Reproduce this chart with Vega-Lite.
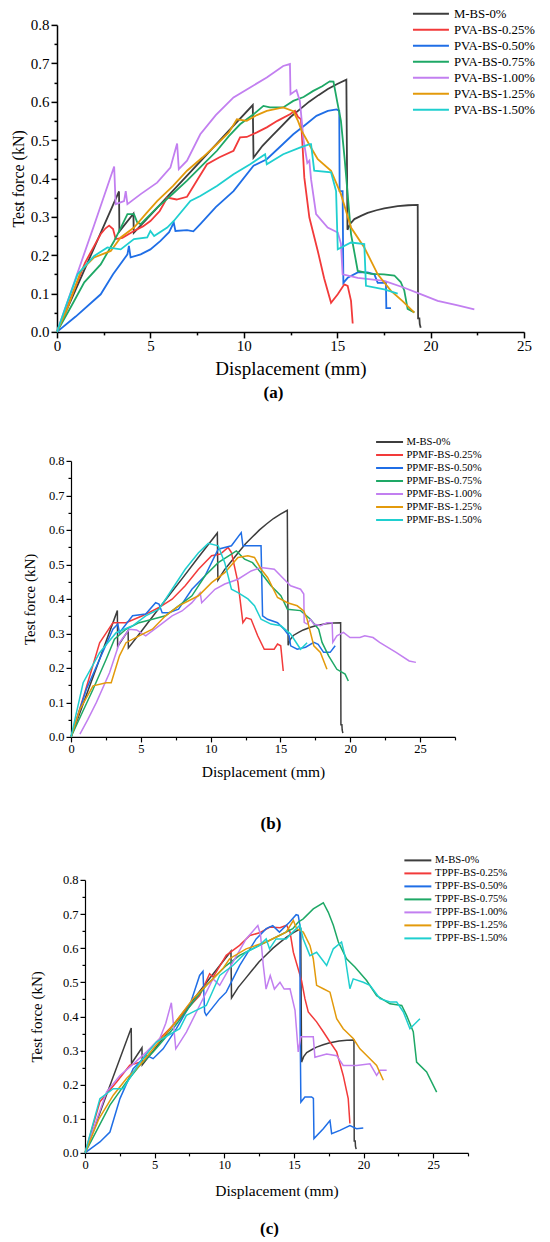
{
  "$schema": "https://vega.github.io/schema/vega-lite/v6.json",
  "padding": {"left": 9, "top": 3.9, "right": 0, "bottom": 0},
  "background": "white",
  "config": {
    "font": "Liberation Serif",
    "view": {"stroke": null},
    "axis": {"grid": false, "domainColor": "#000", "tickColor": "#000", "labelColor": "#000", "titleColor": "#000", "titleFontWeight": "normal", "labelFont": "Liberation Serif", "titleFont": "Liberation Serif", "labelFlush": false, "labelOverlap": false},
    "legend": {"labelFont": "Liberation Serif", "labelColor": "#000"},
    "title": {"font": "Liberation Serif", "color": "#000"}
  },
  "datasets": {
    "m": [
      {"s":"M-BS-0%","x":0,"y":0},{"s":"M-BS-0%","x":3.32,"y":0.366},{"s":"M-BS-0%","x":3.34,"y":0.262},{"s":"M-BS-0%","x":4.09,"y":0.308},{"s":"M-BS-0%","x":4.11,"y":0.258},{"s":"M-BS-0%","x":5,"y":0.304},{"s":"M-BS-0%","x":6,"y":0.357},{"s":"M-BS-0%","x":7,"y":0.409},{"s":"M-BS-0%","x":8,"y":0.461},{"s":"M-BS-0%","x":9,"y":0.514},{"s":"M-BS-0%","x":10.48,"y":0.591},{"s":"M-BS-0%","x":10.52,"y":0.454},{"s":"M-BS-0%","x":11,"y":0.485},{"s":"M-BS-0%","x":11.5,"y":0.51},{"s":"M-BS-0%","x":12,"y":0.535},{"s":"M-BS-0%","x":12.5,"y":0.56},{"s":"M-BS-0%","x":13,"y":0.58},{"s":"M-BS-0%","x":13.5,"y":0.6},{"s":"M-BS-0%","x":14,"y":0.617},{"s":"M-BS-0%","x":14.5,"y":0.633},{"s":"M-BS-0%","x":15,"y":0.646},{"s":"M-BS-0%","x":15.49,"y":0.657},{"s":"M-BS-0%","x":15.55,"y":0.266},{"s":"M-BS-0%","x":15.7,"y":0.282},{"s":"M-BS-0%","x":15.92,"y":0.294},{"s":"M-BS-0%","x":16.3,"y":0.303},{"s":"M-BS-0%","x":16.63,"y":0.31},{"s":"M-BS-0%","x":17.1,"y":0.317},{"s":"M-BS-0%","x":17.52,"y":0.322},{"s":"M-BS-0%","x":18.24,"y":0.328},{"s":"M-BS-0%","x":18.8,"y":0.33},{"s":"M-BS-0%","x":19.31,"y":0.331},{"s":"M-BS-0%","x":19.33,"y":0.035},{"s":"M-BS-0%","x":19.4,"y":0.035},{"s":"M-BS-0%","x":19.42,"y":0.02},{"s":"M-BS-0%","x":19.47,"y":0.011}
    ],
    "a": [
      {"s":"PVA-BS-0.25%","x":0,"y":0},{"s":"PVA-BS-0.25%","x":0.5,"y":0.06},{"s":"PVA-BS-0.25%","x":1,"y":0.12},{"s":"PVA-BS-0.25%","x":1.5,"y":0.18},{"s":"PVA-BS-0.25%","x":2,"y":0.225},{"s":"PVA-BS-0.25%","x":2.34,"y":0.255},{"s":"PVA-BS-0.25%","x":2.6,"y":0.27},{"s":"PVA-BS-0.25%","x":2.79,"y":0.277},{"s":"PVA-BS-0.25%","x":3,"y":0.268},{"s":"PVA-BS-0.25%","x":3.14,"y":0.242},{"s":"PVA-BS-0.25%","x":3.5,"y":0.245},{"s":"PVA-BS-0.25%","x":4.12,"y":0.263},{"s":"PVA-BS-0.25%","x":4.6,"y":0.275},{"s":"PVA-BS-0.25%","x":5,"y":0.289},{"s":"PVA-BS-0.25%","x":5.5,"y":0.315},{"s":"PVA-BS-0.25%","x":5.9,"y":0.35},{"s":"PVA-BS-0.25%","x":6.4,"y":0.345},{"s":"PVA-BS-0.25%","x":6.96,"y":0.352},{"s":"PVA-BS-0.25%","x":7.5,"y":0.395},{"s":"PVA-BS-0.25%","x":8.03,"y":0.437},{"s":"PVA-BS-0.25%","x":8.7,"y":0.455},{"s":"PVA-BS-0.25%","x":9.45,"y":0.472},{"s":"PVA-BS-0.25%","x":9.8,"y":0.507},{"s":"PVA-BS-0.25%","x":10.16,"y":0.508},{"s":"PVA-BS-0.25%","x":10.7,"y":0.52},{"s":"PVA-BS-0.25%","x":11.23,"y":0.533},{"s":"PVA-BS-0.25%","x":11.8,"y":0.55},{"s":"PVA-BS-0.25%","x":12.47,"y":0.567},{"s":"PVA-BS-0.25%","x":12.74,"y":0.576},{"s":"PVA-BS-0.25%","x":12.9,"y":0.56},{"s":"PVA-BS-0.25%","x":13.06,"y":0.554},{"s":"PVA-BS-0.25%","x":13.15,"y":0.48},{"s":"PVA-BS-0.25%","x":13.24,"y":0.402},{"s":"PVA-BS-0.25%","x":13.51,"y":0.298},{"s":"PVA-BS-0.25%","x":13.96,"y":0.211},{"s":"PVA-BS-0.25%","x":14.3,"y":0.14},{"s":"PVA-BS-0.25%","x":14.67,"y":0.076},{"s":"PVA-BS-0.25%","x":15.03,"y":0.098},{"s":"PVA-BS-0.25%","x":15.38,"y":0.124},{"s":"PVA-BS-0.25%","x":15.56,"y":0.12},{"s":"PVA-BS-0.25%","x":15.74,"y":0.081},{"s":"PVA-BS-0.25%","x":15.83,"y":0.022},
      {"s":"PVA-BS-0.50%","x":0,"y":0},{"s":"PVA-BS-0.50%","x":1,"y":0.04},{"s":"PVA-BS-0.50%","x":2.34,"y":0.098},{"s":"PVA-BS-0.50%","x":3,"y":0.15},{"s":"PVA-BS-0.50%","x":3.77,"y":0.202},{"s":"PVA-BS-0.50%","x":3.85,"y":0.224},{"s":"PVA-BS-0.50%","x":3.94,"y":0.194},{"s":"PVA-BS-0.50%","x":4.48,"y":0.202},{"s":"PVA-BS-0.50%","x":5,"y":0.215},{"s":"PVA-BS-0.50%","x":5.54,"y":0.237},{"s":"PVA-BS-0.50%","x":6,"y":0.26},{"s":"PVA-BS-0.50%","x":6.25,"y":0.285},{"s":"PVA-BS-0.50%","x":6.34,"y":0.263},{"s":"PVA-BS-0.50%","x":6.96,"y":0.265},{"s":"PVA-BS-0.50%","x":7.3,"y":0.262},{"s":"PVA-BS-0.50%","x":7.67,"y":0.281},{"s":"PVA-BS-0.50%","x":8.5,"y":0.325},{"s":"PVA-BS-0.50%","x":9.45,"y":0.367},{"s":"PVA-BS-0.50%","x":10.52,"y":0.433},{"s":"PVA-BS-0.50%","x":11.23,"y":0.45},{"s":"PVA-BS-0.50%","x":12,"y":0.485},{"s":"PVA-BS-0.50%","x":12.65,"y":0.515},{"s":"PVA-BS-0.50%","x":13.3,"y":0.54},{"s":"PVA-BS-0.50%","x":13.89,"y":0.563},{"s":"PVA-BS-0.50%","x":14.5,"y":0.576},{"s":"PVA-BS-0.50%","x":14.96,"y":0.58},{"s":"PVA-BS-0.50%","x":15.11,"y":0.576},{"s":"PVA-BS-0.50%","x":15.13,"y":0.367},{"s":"PVA-BS-0.50%","x":15.29,"y":0.367},{"s":"PVA-BS-0.50%","x":15.33,"y":0.128},{"s":"PVA-BS-0.50%","x":15.56,"y":0.141},{"s":"PVA-BS-0.50%","x":16.1,"y":0.155},{"s":"PVA-BS-0.50%","x":16.63,"y":0.155},{"s":"PVA-BS-0.50%","x":16.99,"y":0.15},{"s":"PVA-BS-0.50%","x":17.17,"y":0.128},{"s":"PVA-BS-0.50%","x":17.61,"y":0.128},{"s":"PVA-BS-0.50%","x":17.63,"y":0.062},{"s":"PVA-BS-0.50%","x":17.88,"y":0.062},
      {"s":"PVA-BS-0.75%","x":0,"y":0},{"s":"PVA-BS-0.75%","x":0.8,"y":0.07},{"s":"PVA-BS-0.75%","x":1.46,"y":0.129},{"s":"PVA-BS-0.75%","x":2.34,"y":0.176},{"s":"PVA-BS-0.75%","x":3.06,"y":0.237},{"s":"PVA-BS-0.75%","x":3.4,"y":0.27},{"s":"PVA-BS-0.75%","x":3.77,"y":0.307},{"s":"PVA-BS-0.75%","x":4.12,"y":0.307},{"s":"PVA-BS-0.75%","x":4.3,"y":0.285},{"s":"PVA-BS-0.75%","x":4.48,"y":0.281},{"s":"PVA-BS-0.75%","x":5.36,"y":0.324},{"s":"PVA-BS-0.75%","x":6.2,"y":0.36},{"s":"PVA-BS-0.75%","x":6.96,"y":0.394},{"s":"PVA-BS-0.75%","x":7.8,"y":0.435},{"s":"PVA-BS-0.75%","x":8.56,"y":0.472},{"s":"PVA-BS-0.75%","x":9.2,"y":0.51},{"s":"PVA-BS-0.75%","x":9.8,"y":0.541},{"s":"PVA-BS-0.75%","x":10.52,"y":0.567},{"s":"PVA-BS-0.75%","x":11.05,"y":0.589},{"s":"PVA-BS-0.75%","x":11.4,"y":0.585},{"s":"PVA-BS-0.75%","x":12.11,"y":0.585},{"s":"PVA-BS-0.75%","x":12.65,"y":0.602},{"s":"PVA-BS-0.75%","x":13.2,"y":0.612},{"s":"PVA-BS-0.75%","x":13.72,"y":0.628},{"s":"PVA-BS-0.75%","x":14.2,"y":0.64},{"s":"PVA-BS-0.75%","x":14.6,"y":0.653},{"s":"PVA-BS-0.75%","x":14.8,"y":0.652},{"s":"PVA-BS-0.75%","x":15,"y":0.6},{"s":"PVA-BS-0.75%","x":15.2,"y":0.55},{"s":"PVA-BS-0.75%","x":15.4,"y":0.45},{"s":"PVA-BS-0.75%","x":15.56,"y":0.359},{"s":"PVA-BS-0.75%","x":15.74,"y":0.255},{"s":"PVA-BS-0.75%","x":16.1,"y":0.159},{"s":"PVA-BS-0.75%","x":16.81,"y":0.151},{"s":"PVA-BS-0.75%","x":17.5,"y":0.15},{"s":"PVA-BS-0.75%","x":18.06,"y":0.147},{"s":"PVA-BS-0.75%","x":18.4,"y":0.13},{"s":"PVA-BS-0.75%","x":18.59,"y":0.108},{"s":"PVA-BS-0.75%","x":18.77,"y":0.06},{"s":"PVA-BS-0.75%","x":19.13,"y":0.051},
      {"s":"PVA-BS-1.00%","x":0,"y":0},{"s":"PVA-BS-1.00%","x":1,"y":0.14},{"s":"PVA-BS-1.00%","x":2,"y":0.28},{"s":"PVA-BS-1.00%","x":3.06,"y":0.431},{"s":"PVA-BS-1.00%","x":3.14,"y":0.333},{"s":"PVA-BS-1.00%","x":3.59,"y":0.341},{"s":"PVA-BS-1.00%","x":3.68,"y":0.367},{"s":"PVA-BS-1.00%","x":3.77,"y":0.333},{"s":"PVA-BS-1.00%","x":4.48,"y":0.359},{"s":"PVA-BS-1.00%","x":5.36,"y":0.389},{"s":"PVA-BS-1.00%","x":6.07,"y":0.428},{"s":"PVA-BS-1.00%","x":6.43,"y":0.491},{"s":"PVA-BS-1.00%","x":6.52,"y":0.424},{"s":"PVA-BS-1.00%","x":6.96,"y":0.446},{"s":"PVA-BS-1.00%","x":7.67,"y":0.515},{"s":"PVA-BS-1.00%","x":8.5,"y":0.565},{"s":"PVA-BS-1.00%","x":9.45,"y":0.611},{"s":"PVA-BS-1.00%","x":10.34,"y":0.637},{"s":"PVA-BS-1.00%","x":11.23,"y":0.663},{"s":"PVA-BS-1.00%","x":12.11,"y":0.693},{"s":"PVA-BS-1.00%","x":12.47,"y":0.698},{"s":"PVA-BS-1.00%","x":12.5,"y":0.619},{"s":"PVA-BS-1.00%","x":12.82,"y":0.63},{"s":"PVA-BS-1.00%","x":13,"y":0.602},{"s":"PVA-BS-1.00%","x":13.2,"y":0.5},{"s":"PVA-BS-1.00%","x":13.4,"y":0.44},{"s":"PVA-BS-1.00%","x":13.51,"y":0.446},{"s":"PVA-BS-1.00%","x":13.6,"y":0.398},{"s":"PVA-BS-1.00%","x":13.87,"y":0.307},{"s":"PVA-BS-1.00%","x":14.49,"y":0.272},{"s":"PVA-BS-1.00%","x":15.03,"y":0.259},{"s":"PVA-BS-1.00%","x":15.2,"y":0.23},{"s":"PVA-BS-1.00%","x":15.29,"y":0.15},{"s":"PVA-BS-1.00%","x":16.1,"y":0.141},{"s":"PVA-BS-1.00%","x":17.52,"y":0.133},{"s":"PVA-BS-1.00%","x":18.59,"y":0.115},{"s":"PVA-BS-1.00%","x":19.5,"y":0.098},{"s":"PVA-BS-1.00%","x":20.38,"y":0.081},{"s":"PVA-BS-1.00%","x":21.4,"y":0.07},{"s":"PVA-BS-1.00%","x":22.34,"y":0.059},
      {"s":"PVA-BS-1.25%","x":0,"y":0},{"s":"PVA-BS-1.25%","x":0.57,"y":0.063},{"s":"PVA-BS-1.25%","x":1.28,"y":0.159},{"s":"PVA-BS-1.25%","x":1.6,"y":0.175},{"s":"PVA-BS-1.25%","x":1.99,"y":0.194},{"s":"PVA-BS-1.25%","x":2.88,"y":0.211},{"s":"PVA-BS-1.25%","x":3.41,"y":0.246},{"s":"PVA-BS-1.25%","x":4.12,"y":0.272},{"s":"PVA-BS-1.25%","x":4.8,"y":0.31},{"s":"PVA-BS-1.25%","x":5.36,"y":0.341},{"s":"PVA-BS-1.25%","x":6.2,"y":0.38},{"s":"PVA-BS-1.25%","x":6.96,"y":0.42},{"s":"PVA-BS-1.25%","x":7.8,"y":0.455},{"s":"PVA-BS-1.25%","x":8.56,"y":0.489},{"s":"PVA-BS-1.25%","x":9.2,"y":0.52},{"s":"PVA-BS-1.25%","x":9.63,"y":0.554},{"s":"PVA-BS-1.25%","x":10.16,"y":0.55},{"s":"PVA-BS-1.25%","x":10.7,"y":0.565},{"s":"PVA-BS-1.25%","x":11.23,"y":0.576},{"s":"PVA-BS-1.25%","x":12.11,"y":0.585},{"s":"PVA-BS-1.25%","x":12.65,"y":0.575},{"s":"PVA-BS-1.25%","x":12.9,"y":0.55},{"s":"PVA-BS-1.25%","x":13.1,"y":0.524},{"s":"PVA-BS-1.25%","x":13.6,"y":0.48},{"s":"PVA-BS-1.25%","x":13.96,"y":0.45},{"s":"PVA-BS-1.25%","x":14.67,"y":0.42},{"s":"PVA-BS-1.25%","x":15.2,"y":0.359},{"s":"PVA-BS-1.25%","x":15.74,"y":0.272},{"s":"PVA-BS-1.25%","x":16.45,"y":0.22},{"s":"PVA-BS-1.25%","x":17.17,"y":0.15},{"s":"PVA-BS-1.25%","x":17.88,"y":0.107},{"s":"PVA-BS-1.25%","x":18.5,"y":0.08},{"s":"PVA-BS-1.25%","x":19.13,"y":0.05},
      {"s":"PVA-BS-1.50%","x":0,"y":0},{"s":"PVA-BS-1.50%","x":0.5,"y":0.07},{"s":"PVA-BS-1.50%","x":1.1,"y":0.15},{"s":"PVA-BS-1.50%","x":1.99,"y":0.198},{"s":"PVA-BS-1.50%","x":2.7,"y":0.22},{"s":"PVA-BS-1.50%","x":3.41,"y":0.215},{"s":"PVA-BS-1.50%","x":4.12,"y":0.242},{"s":"PVA-BS-1.50%","x":4.83,"y":0.246},{"s":"PVA-BS-1.50%","x":5,"y":0.263},{"s":"PVA-BS-1.50%","x":5.2,"y":0.25},{"s":"PVA-BS-1.50%","x":5.9,"y":0.272},{"s":"PVA-BS-1.50%","x":6.25,"y":0.289},{"s":"PVA-BS-1.50%","x":7.14,"y":0.341},{"s":"PVA-BS-1.50%","x":7.67,"y":0.354},{"s":"PVA-BS-1.50%","x":8.56,"y":0.38},{"s":"PVA-BS-1.50%","x":9.45,"y":0.411},{"s":"PVA-BS-1.50%","x":10.34,"y":0.437},{"s":"PVA-BS-1.50%","x":11.14,"y":0.463},{"s":"PVA-BS-1.50%","x":11.23,"y":0.437},{"s":"PVA-BS-1.50%","x":12.11,"y":0.463},{"s":"PVA-BS-1.50%","x":13,"y":0.48},{"s":"PVA-BS-1.50%","x":13.53,"y":0.489},{"s":"PVA-BS-1.50%","x":13.6,"y":0.489},{"s":"PVA-BS-1.50%","x":13.77,"y":0.42},{"s":"PVA-BS-1.50%","x":14.67,"y":0.416},{"s":"PVA-BS-1.50%","x":14.94,"y":0.367},{"s":"PVA-BS-1.50%","x":15.03,"y":0.215},{"s":"PVA-BS-1.50%","x":15.74,"y":0.233},{"s":"PVA-BS-1.50%","x":16.45,"y":0.229},{"s":"PVA-BS-1.50%","x":16.54,"y":0.12},{"s":"PVA-BS-1.50%","x":17.52,"y":0.111},{"s":"PVA-BS-1.50%","x":18.24,"y":0.1}
    ],
    "b": [
      {"s":"PPMF-BS-0.25%","x":0,"y":0},{"s":"PPMF-BS-0.25%","x":1,"y":0.13},{"s":"PPMF-BS-0.25%","x":2.05,"y":0.273},{"s":"PPMF-BS-0.25%","x":2.5,"y":0.3},{"s":"PPMF-BS-0.25%","x":3,"y":0.331},{"s":"PPMF-BS-0.25%","x":3.94,"y":0.331},{"s":"PPMF-BS-0.25%","x":5.12,"y":0.351},{"s":"PPMF-BS-0.25%","x":6.3,"y":0.375},{"s":"PPMF-BS-0.25%","x":7.24,"y":0.399},{"s":"PPMF-BS-0.25%","x":8.18,"y":0.438},{"s":"PPMF-BS-0.25%","x":9.13,"y":0.486},{"s":"PPMF-BS-0.25%","x":10.07,"y":0.525},{"s":"PPMF-BS-0.25%","x":10.7,"y":0.53},{"s":"PPMF-BS-0.25%","x":11.25,"y":0.549},{"s":"PPMF-BS-0.25%","x":11.49,"y":0.534},{"s":"PPMF-BS-0.25%","x":11.96,"y":0.447},{"s":"PPMF-BS-0.25%","x":12.31,"y":0.331},{"s":"PPMF-BS-0.25%","x":12.55,"y":0.345},{"s":"PPMF-BS-0.25%","x":12.9,"y":0.341},{"s":"PPMF-BS-0.25%","x":13.37,"y":0.293},{"s":"PPMF-BS-0.25%","x":13.84,"y":0.254},{"s":"PPMF-BS-0.25%","x":14.55,"y":0.254},{"s":"PPMF-BS-0.25%","x":14.79,"y":0.269},{"s":"PPMF-BS-0.25%","x":15.02,"y":0.264},{"s":"PPMF-BS-0.25%","x":15.2,"y":0.191},
      {"s":"PPMF-BS-0.50%","x":0,"y":0},{"s":"PPMF-BS-0.50%","x":1.1,"y":0.138},{"s":"PPMF-BS-0.50%","x":2.05,"y":0.225},{"s":"PPMF-BS-0.50%","x":3,"y":0.312},{"s":"PPMF-BS-0.50%","x":3.35,"y":0.327},{"s":"PPMF-BS-0.50%","x":3.47,"y":0.302},{"s":"PPMF-BS-0.50%","x":4.41,"y":0.351},{"s":"PPMF-BS-0.50%","x":5.35,"y":0.356},{"s":"PPMF-BS-0.50%","x":6.06,"y":0.389},{"s":"PPMF-BS-0.50%","x":6.3,"y":0.385},{"s":"PPMF-BS-0.50%","x":6.53,"y":0.36},{"s":"PPMF-BS-0.50%","x":7,"y":0.36},{"s":"PPMF-BS-0.50%","x":7.7,"y":0.37},{"s":"PPMF-BS-0.50%","x":8.66,"y":0.428},{"s":"PPMF-BS-0.50%","x":9.6,"y":0.467},{"s":"PPMF-BS-0.50%","x":10.54,"y":0.544},{"s":"PPMF-BS-0.50%","x":11.49,"y":0.554},{"s":"PPMF-BS-0.50%","x":12.19,"y":0.592},{"s":"PPMF-BS-0.50%","x":12.31,"y":0.554},{"s":"PPMF-BS-0.50%","x":13,"y":0.554},{"s":"PPMF-BS-0.50%","x":13.61,"y":0.554},{"s":"PPMF-BS-0.50%","x":13.72,"y":0.351},{"s":"PPMF-BS-0.50%","x":14.08,"y":0.341},{"s":"PPMF-BS-0.50%","x":14.79,"y":0.331},{"s":"PPMF-BS-0.50%","x":15.26,"y":0.312},{"s":"PPMF-BS-0.50%","x":15.62,"y":0.293},{"s":"PPMF-BS-0.50%","x":15.73,"y":0.264},{"s":"PPMF-BS-0.50%","x":16.2,"y":0.254},{"s":"PPMF-BS-0.50%","x":16.8,"y":0.26},{"s":"PPMF-BS-0.50%","x":17.39,"y":0.274},{"s":"PPMF-BS-0.50%","x":17.7,"y":0.268},{"s":"PPMF-BS-0.50%","x":18.09,"y":0.245},{"s":"PPMF-BS-0.50%","x":18.56,"y":0.245},{"s":"PPMF-BS-0.50%","x":18.92,"y":0.264},
      {"s":"PPMF-BS-0.75%","x":0,"y":0},{"s":"PPMF-BS-0.75%","x":0.8,"y":0.07},{"s":"PPMF-BS-0.75%","x":1.58,"y":0.138},{"s":"PPMF-BS-0.75%","x":2.52,"y":0.225},{"s":"PPMF-BS-0.75%","x":3.11,"y":0.283},{"s":"PPMF-BS-0.75%","x":3.94,"y":0.312},{"s":"PPMF-BS-0.75%","x":4.88,"y":0.331},{"s":"PPMF-BS-0.75%","x":5.83,"y":0.341},{"s":"PPMF-BS-0.75%","x":6.77,"y":0.351},{"s":"PPMF-BS-0.75%","x":7.71,"y":0.38},{"s":"PPMF-BS-0.75%","x":8.66,"y":0.409},{"s":"PPMF-BS-0.75%","x":9.6,"y":0.467},{"s":"PPMF-BS-0.75%","x":10.54,"y":0.505},{"s":"PPMF-BS-0.75%","x":11.49,"y":0.53},{"s":"PPMF-BS-0.75%","x":11.84,"y":0.539},{"s":"PPMF-BS-0.75%","x":12.43,"y":0.515},{"s":"PPMF-BS-0.75%","x":13,"y":0.505},{"s":"PPMF-BS-0.75%","x":13.61,"y":0.476},{"s":"PPMF-BS-0.75%","x":14.32,"y":0.438},{"s":"PPMF-BS-0.75%","x":15.03,"y":0.409},{"s":"PPMF-BS-0.75%","x":15.5,"y":0.37},{"s":"PPMF-BS-0.75%","x":16.44,"y":0.366},{"s":"PPMF-BS-0.75%","x":17.15,"y":0.341},{"s":"PPMF-BS-0.75%","x":17.74,"y":0.312},{"s":"PPMF-BS-0.75%","x":17.98,"y":0.274},{"s":"PPMF-BS-0.75%","x":18.45,"y":0.235},{"s":"PPMF-BS-0.75%","x":19.04,"y":0.196},{"s":"PPMF-BS-0.75%","x":19.63,"y":0.182},{"s":"PPMF-BS-0.75%","x":19.86,"y":0.162},
      {"s":"PPMF-BS-1.00%","x":0.64,"y":0.008},{"s":"PPMF-BS-1.00%","x":1.2,"y":0.05},{"s":"PPMF-BS-1.00%","x":1.82,"y":0.1},{"s":"PPMF-BS-1.00%","x":2.76,"y":0.186},{"s":"PPMF-BS-1.00%","x":3.47,"y":0.273},{"s":"PPMF-BS-1.00%","x":4.17,"y":0.312},{"s":"PPMF-BS-1.00%","x":4.7,"y":0.31},{"s":"PPMF-BS-1.00%","x":5.35,"y":0.293},{"s":"PPMF-BS-1.00%","x":6.3,"y":0.322},{"s":"PPMF-BS-1.00%","x":7.24,"y":0.351},{"s":"PPMF-BS-1.00%","x":7.95,"y":0.365},{"s":"PPMF-BS-1.00%","x":8.66,"y":0.389},{"s":"PPMF-BS-1.00%","x":9.25,"y":0.418},{"s":"PPMF-BS-1.00%","x":9.36,"y":0.389},{"s":"PPMF-BS-1.00%","x":10.31,"y":0.428},{"s":"PPMF-BS-1.00%","x":11.01,"y":0.443},{"s":"PPMF-BS-1.00%","x":11.96,"y":0.457},{"s":"PPMF-BS-1.00%","x":12.9,"y":0.481},{"s":"PPMF-BS-1.00%","x":13.61,"y":0.491},{"s":"PPMF-BS-1.00%","x":14.56,"y":0.486},{"s":"PPMF-BS-1.00%","x":15.26,"y":0.457},{"s":"PPMF-BS-1.00%","x":15.73,"y":0.438},{"s":"PPMF-BS-1.00%","x":16.44,"y":0.428},{"s":"PPMF-BS-1.00%","x":16.67,"y":0.414},{"s":"PPMF-BS-1.00%","x":16.7,"y":0.332},{"s":"PPMF-BS-1.00%","x":16.91,"y":0.327},{"s":"PPMF-BS-1.00%","x":17.15,"y":0.341},{"s":"PPMF-BS-1.00%","x":17.39,"y":0.327},{"s":"PPMF-BS-1.00%","x":17.86,"y":0.322},{"s":"PPMF-BS-1.00%","x":18.33,"y":0.331},{"s":"PPMF-BS-1.00%","x":18.7,"y":0.331},{"s":"PPMF-BS-1.00%","x":18.75,"y":0.274},{"s":"PPMF-BS-1.00%","x":19.04,"y":0.293},{"s":"PPMF-BS-1.00%","x":19.51,"y":0.303},{"s":"PPMF-BS-1.00%","x":19.98,"y":0.288},{"s":"PPMF-BS-1.00%","x":20.69,"y":0.288},{"s":"PPMF-BS-1.00%","x":21.04,"y":0.293},{"s":"PPMF-BS-1.00%","x":21.63,"y":0.288},{"s":"PPMF-BS-1.00%","x":22.1,"y":0.274},{"s":"PPMF-BS-1.00%","x":23.28,"y":0.245},{"s":"PPMF-BS-1.00%","x":24.22,"y":0.22},{"s":"PPMF-BS-1.00%","x":24.7,"y":0.216},
      {"s":"PPMF-BS-1.25%","x":0,"y":0},{"s":"PPMF-BS-1.25%","x":0.64,"y":0.08},{"s":"PPMF-BS-1.25%","x":1.58,"y":0.148},{"s":"PPMF-BS-1.25%","x":2.52,"y":0.157},{"s":"PPMF-BS-1.25%","x":2.88,"y":0.157},{"s":"PPMF-BS-1.25%","x":3.47,"y":0.235},{"s":"PPMF-BS-1.25%","x":3.94,"y":0.273},{"s":"PPMF-BS-1.25%","x":4.88,"y":0.293},{"s":"PPMF-BS-1.25%","x":5.83,"y":0.312},{"s":"PPMF-BS-1.25%","x":6.77,"y":0.351},{"s":"PPMF-BS-1.25%","x":7.71,"y":0.38},{"s":"PPMF-BS-1.25%","x":9.13,"y":0.409},{"s":"PPMF-BS-1.25%","x":10.07,"y":0.447},{"s":"PPMF-BS-1.25%","x":11.01,"y":0.476},{"s":"PPMF-BS-1.25%","x":11.96,"y":0.52},{"s":"PPMF-BS-1.25%","x":12.67,"y":0.525},{"s":"PPMF-BS-1.25%","x":13.14,"y":0.52},{"s":"PPMF-BS-1.25%","x":13.61,"y":0.486},{"s":"PPMF-BS-1.25%","x":14.08,"y":0.462},{"s":"PPMF-BS-1.25%","x":14.79,"y":0.404},{"s":"PPMF-BS-1.25%","x":15.5,"y":0.389},{"s":"PPMF-BS-1.25%","x":16.2,"y":0.38},{"s":"PPMF-BS-1.25%","x":16.67,"y":0.365},{"s":"PPMF-BS-1.25%","x":16.91,"y":0.341},{"s":"PPMF-BS-1.25%","x":17.39,"y":0.264},{"s":"PPMF-BS-1.25%","x":17.86,"y":0.245},{"s":"PPMF-BS-1.25%","x":18.33,"y":0.196},
      {"s":"PPMF-BS-1.50%","x":0,"y":0},{"s":"PPMF-BS-1.50%","x":0.87,"y":0.157},{"s":"PPMF-BS-1.50%","x":2.05,"y":0.244},{"s":"PPMF-BS-1.50%","x":3.23,"y":0.302},{"s":"PPMF-BS-1.50%","x":4.41,"y":0.322},{"s":"PPMF-BS-1.50%","x":5.35,"y":0.351},{"s":"PPMF-BS-1.50%","x":6.3,"y":0.37},{"s":"PPMF-BS-1.50%","x":7.24,"y":0.428},{"s":"PPMF-BS-1.50%","x":8.18,"y":0.486},{"s":"PPMF-BS-1.50%","x":9.13,"y":0.534},{"s":"PPMF-BS-1.50%","x":9.83,"y":0.561},{"s":"PPMF-BS-1.50%","x":10.54,"y":0.554},{"s":"PPMF-BS-1.50%","x":11.01,"y":0.505},{"s":"PPMF-BS-1.50%","x":11.49,"y":0.428},{"s":"PPMF-BS-1.50%","x":11.96,"y":0.418},{"s":"PPMF-BS-1.50%","x":12.67,"y":0.4},{"s":"PPMF-BS-1.50%","x":13.14,"y":0.38},{"s":"PPMF-BS-1.50%","x":13.61,"y":0.341},{"s":"PPMF-BS-1.50%","x":14.32,"y":0.327},{"s":"PPMF-BS-1.50%","x":15.03,"y":0.322},{"s":"PPMF-BS-1.50%","x":15.73,"y":0.298},{"s":"PPMF-BS-1.50%","x":16.44,"y":0.254},{"s":"PPMF-BS-1.50%","x":16.91,"y":0.273}
    ],
    "c": [
      {"s":"TPPF-BS-0.25%","x":0,"y":0},{"s":"TPPF-BS-0.25%","x":1.07,"y":0.15},{"s":"TPPF-BS-0.25%","x":2.27,"y":0.208},{"s":"TPPF-BS-0.25%","x":3.22,"y":0.257},{"s":"TPPF-BS-0.25%","x":3.94,"y":0.266},{"s":"TPPF-BS-0.25%","x":4.89,"y":0.315},{"s":"TPPF-BS-0.25%","x":6.32,"y":0.374},{"s":"TPPF-BS-0.25%","x":7.3,"y":0.42},{"s":"TPPF-BS-0.25%","x":8.23,"y":0.461},{"s":"TPPF-BS-0.25%","x":8.95,"y":0.525},{"s":"TPPF-BS-0.25%","x":9.2,"y":0.515},{"s":"TPPF-BS-0.25%","x":10.14,"y":0.579},{"s":"TPPF-BS-0.25%","x":11.1,"y":0.608},{"s":"TPPF-BS-0.25%","x":11.84,"y":0.637},{"s":"TPPF-BS-0.25%","x":12.53,"y":0.645},{"s":"TPPF-BS-0.25%","x":13.28,"y":0.662},{"s":"TPPF-BS-0.25%","x":14,"y":0.66},{"s":"TPPF-BS-0.25%","x":14.48,"y":0.667},{"s":"TPPF-BS-0.25%","x":14.72,"y":0.647},{"s":"TPPF-BS-0.25%","x":14.96,"y":0.588},{"s":"TPPF-BS-0.25%","x":15.55,"y":0.505},{"s":"TPPF-BS-0.25%","x":15.79,"y":0.452},{"s":"TPPF-BS-0.25%","x":16.03,"y":0.413},{"s":"TPPF-BS-0.25%","x":16.63,"y":0.384},{"s":"TPPF-BS-0.25%","x":17.11,"y":0.355},{"s":"TPPF-BS-0.25%","x":17.59,"y":0.325},{"s":"TPPF-BS-0.25%","x":18.07,"y":0.296},{"s":"TPPF-BS-0.25%","x":18.54,"y":0.227},{"s":"TPPF-BS-0.25%","x":18.9,"y":0.159},{"s":"TPPF-BS-0.25%","x":19.02,"y":0.086},
      {"s":"TPPF-BS-0.50%","x":0,"y":0},{"s":"TPPF-BS-0.50%","x":1.07,"y":0.032},{"s":"TPPF-BS-0.50%","x":1.79,"y":0.061},{"s":"TPPF-BS-0.50%","x":2.51,"y":0.159},{"s":"TPPF-BS-0.50%","x":3.46,"y":0.247},{"s":"TPPF-BS-0.50%","x":4.42,"y":0.286},{"s":"TPPF-BS-0.50%","x":4.89,"y":0.276},{"s":"TPPF-BS-0.50%","x":5.61,"y":0.305},{"s":"TPPF-BS-0.50%","x":6.56,"y":0.364},{"s":"TPPF-BS-0.50%","x":7.52,"y":0.432},{"s":"TPPF-BS-0.50%","x":8.23,"y":0.52},{"s":"TPPF-BS-0.50%","x":8.47,"y":0.532},{"s":"TPPF-BS-0.50%","x":8.59,"y":0.413},{"s":"TPPF-BS-0.50%","x":8.71,"y":0.403},{"s":"TPPF-BS-0.50%","x":9.67,"y":0.452},{"s":"TPPF-BS-0.50%","x":10.14,"y":0.471},{"s":"TPPF-BS-0.50%","x":11.1,"y":0.549},{"s":"TPPF-BS-0.50%","x":12.29,"y":0.627},{"s":"TPPF-BS-0.50%","x":13.01,"y":0.657},{"s":"TPPF-BS-0.50%","x":13.48,"y":0.666},{"s":"TPPF-BS-0.50%","x":13.96,"y":0.647},{"s":"TPPF-BS-0.50%","x":14.68,"y":0.676},{"s":"TPPF-BS-0.50%","x":15.16,"y":0.698},{"s":"TPPF-BS-0.50%","x":15.31,"y":0.696},{"s":"TPPF-BS-0.50%","x":15.43,"y":0.667},{"s":"TPPF-BS-0.50%","x":15.45,"y":0.355},{"s":"TPPF-BS-0.50%","x":15.5,"y":0.149},{"s":"TPPF-BS-0.50%","x":15.79,"y":0.164},{"s":"TPPF-BS-0.50%","x":16.27,"y":0.164},{"s":"TPPF-BS-0.50%","x":16.4,"y":0.16},{"s":"TPPF-BS-0.50%","x":16.44,"y":0.042},{"s":"TPPF-BS-0.50%","x":17.11,"y":0.071},{"s":"TPPF-BS-0.50%","x":17.59,"y":0.095},{"s":"TPPF-BS-0.50%","x":17.71,"y":0.056},{"s":"TPPF-BS-0.50%","x":18.3,"y":0.066},{"s":"TPPF-BS-0.50%","x":19.02,"y":0.08},{"s":"TPPF-BS-0.50%","x":19.5,"y":0.071},{"s":"TPPF-BS-0.50%","x":19.98,"y":0.073},
      {"s":"TPPF-BS-0.75%","x":0,"y":0},{"s":"TPPF-BS-0.75%","x":1.79,"y":0.14},{"s":"TPPF-BS-0.75%","x":2.98,"y":0.208},{"s":"TPPF-BS-0.75%","x":3.94,"y":0.257},{"s":"TPPF-BS-0.75%","x":4.89,"y":0.296},{"s":"TPPF-BS-0.75%","x":6.32,"y":0.364},{"s":"TPPF-BS-0.75%","x":7.76,"y":0.442},{"s":"TPPF-BS-0.75%","x":8.71,"y":0.491},{"s":"TPPF-BS-0.75%","x":10.14,"y":0.549},{"s":"TPPF-BS-0.75%","x":11.1,"y":0.579},{"s":"TPPF-BS-0.75%","x":12.53,"y":0.608},{"s":"TPPF-BS-0.75%","x":13.96,"y":0.637},{"s":"TPPF-BS-0.75%","x":14.92,"y":0.657},{"s":"TPPF-BS-0.75%","x":15.3,"y":0.676},{"s":"TPPF-BS-0.75%","x":15.67,"y":0.686},{"s":"TPPF-BS-0.75%","x":16.39,"y":0.715},{"s":"TPPF-BS-0.75%","x":17.11,"y":0.733},{"s":"TPPF-BS-0.75%","x":17.47,"y":0.705},{"s":"TPPF-BS-0.75%","x":17.83,"y":0.667},{"s":"TPPF-BS-0.75%","x":18.19,"y":0.618},{"s":"TPPF-BS-0.75%","x":18.78,"y":0.569},{"s":"TPPF-BS-0.75%","x":19.38,"y":0.545},{"s":"TPPF-BS-0.75%","x":20.22,"y":0.505},{"s":"TPPF-BS-0.75%","x":20.94,"y":0.461},{"s":"TPPF-BS-0.75%","x":21.9,"y":0.437},{"s":"TPPF-BS-0.75%","x":22.74,"y":0.432},{"s":"TPPF-BS-0.75%","x":23.09,"y":0.403},{"s":"TPPF-BS-0.75%","x":23.57,"y":0.355},{"s":"TPPF-BS-0.75%","x":23.81,"y":0.266},{"s":"TPPF-BS-0.75%","x":24.53,"y":0.237},{"s":"TPPF-BS-0.75%","x":25.25,"y":0.178},
      {"s":"TPPF-BS-1.00%","x":0,"y":0},{"s":"TPPF-BS-1.00%","x":0.7,"y":0.08},{"s":"TPPF-BS-1.00%","x":1.55,"y":0.179},{"s":"TPPF-BS-1.00%","x":2.51,"y":0.227},{"s":"TPPF-BS-1.00%","x":3.46,"y":0.26},{"s":"TPPF-BS-1.00%","x":4.42,"y":0.296},{"s":"TPPF-BS-1.00%","x":5.37,"y":0.335},{"s":"TPPF-BS-1.00%","x":5.8,"y":0.38},{"s":"TPPF-BS-1.00%","x":6.2,"y":0.44},{"s":"TPPF-BS-1.00%","x":6.52,"y":0.305},{"s":"TPPF-BS-1.00%","x":7.28,"y":0.354},{"s":"TPPF-BS-1.00%","x":8.23,"y":0.432},{"s":"TPPF-BS-1.00%","x":9.19,"y":0.51},{"s":"TPPF-BS-1.00%","x":9.67,"y":0.491},{"s":"TPPF-BS-1.00%","x":10.62,"y":0.559},{"s":"TPPF-BS-1.00%","x":11.57,"y":0.627},{"s":"TPPF-BS-1.00%","x":12.41,"y":0.666},{"s":"TPPF-BS-1.00%","x":12.6,"y":0.64},{"s":"TPPF-BS-1.00%","x":12.8,"y":0.55},{"s":"TPPF-BS-1.00%","x":13,"y":0.48},{"s":"TPPF-BS-1.00%","x":13.3,"y":0.52},{"s":"TPPF-BS-1.00%","x":13.6,"y":0.48},{"s":"TPPF-BS-1.00%","x":14,"y":0.5},{"s":"TPPF-BS-1.00%","x":14.3,"y":0.48},{"s":"TPPF-BS-1.00%","x":14.72,"y":0.481},{"s":"TPPF-BS-1.00%","x":15.08,"y":0.418},{"s":"TPPF-BS-1.00%","x":15.31,"y":0.296},{"s":"TPPF-BS-1.00%","x":15.5,"y":0.34},{"s":"TPPF-BS-1.00%","x":16.39,"y":0.34},{"s":"TPPF-BS-1.00%","x":16.51,"y":0.28},{"s":"TPPF-BS-1.00%","x":17.35,"y":0.29},{"s":"TPPF-BS-1.00%","x":18.07,"y":0.285},{"s":"TPPF-BS-1.00%","x":18.54,"y":0.256},{"s":"TPPF-BS-1.00%","x":19.5,"y":0.256},{"s":"TPPF-BS-1.00%","x":20.46,"y":0.261},{"s":"TPPF-BS-1.00%","x":20.94,"y":0.227},{"s":"TPPF-BS-1.00%","x":21.18,"y":0.242},{"s":"TPPF-BS-1.00%","x":21.66,"y":0.242},
      {"s":"TPPF-BS-1.25%","x":0,"y":0},{"s":"TPPF-BS-1.25%","x":1,"y":0.1},{"s":"TPPF-BS-1.25%","x":2.03,"y":0.169},{"s":"TPPF-BS-1.25%","x":2.98,"y":0.218},{"s":"TPPF-BS-1.25%","x":3.94,"y":0.257},{"s":"TPPF-BS-1.25%","x":4.89,"y":0.305},{"s":"TPPF-BS-1.25%","x":6.32,"y":0.374},{"s":"TPPF-BS-1.25%","x":7.76,"y":0.452},{"s":"TPPF-BS-1.25%","x":9.19,"y":0.51},{"s":"TPPF-BS-1.25%","x":9.9,"y":0.54},{"s":"TPPF-BS-1.25%","x":10.38,"y":0.569},{"s":"TPPF-BS-1.25%","x":11.57,"y":0.598},{"s":"TPPF-BS-1.25%","x":13.01,"y":0.618},{"s":"TPPF-BS-1.25%","x":14.44,"y":0.647},{"s":"TPPF-BS-1.25%","x":14.96,"y":0.681},{"s":"TPPF-BS-1.25%","x":15.2,"y":0.657},{"s":"TPPF-BS-1.25%","x":15.67,"y":0.647},{"s":"TPPF-BS-1.25%","x":16.15,"y":0.608},{"s":"TPPF-BS-1.25%","x":16.39,"y":0.569},{"s":"TPPF-BS-1.25%","x":16.63,"y":0.491},{"s":"TPPF-BS-1.25%","x":17.11,"y":0.481},{"s":"TPPF-BS-1.25%","x":17.59,"y":0.471},{"s":"TPPF-BS-1.25%","x":18.07,"y":0.393},{"s":"TPPF-BS-1.25%","x":18.54,"y":0.364},{"s":"TPPF-BS-1.25%","x":19.26,"y":0.335},{"s":"TPPF-BS-1.25%","x":19.74,"y":0.305},{"s":"TPPF-BS-1.25%","x":20.46,"y":0.276},{"s":"TPPF-BS-1.25%","x":20.94,"y":0.256},{"s":"TPPF-BS-1.25%","x":21.42,"y":0.213},
      {"s":"TPPF-BS-1.50%","x":0,"y":0},{"s":"TPPF-BS-1.50%","x":1.07,"y":0.159},{"s":"TPPF-BS-1.50%","x":2.03,"y":0.188},{"s":"TPPF-BS-1.50%","x":2.74,"y":0.188},{"s":"TPPF-BS-1.50%","x":3.94,"y":0.266},{"s":"TPPF-BS-1.50%","x":5.13,"y":0.325},{"s":"TPPF-BS-1.50%","x":6.8,"y":0.364},{"s":"TPPF-BS-1.50%","x":7.28,"y":0.403},{"s":"TPPF-BS-1.50%","x":7.76,"y":0.413},{"s":"TPPF-BS-1.50%","x":8.71,"y":0.432},{"s":"TPPF-BS-1.50%","x":9.67,"y":0.52},{"s":"TPPF-BS-1.50%","x":10.62,"y":0.549},{"s":"TPPF-BS-1.50%","x":11.57,"y":0.588},{"s":"TPPF-BS-1.50%","x":12.53,"y":0.608},{"s":"TPPF-BS-1.50%","x":13.01,"y":0.627},{"s":"TPPF-BS-1.50%","x":13.25,"y":0.598},{"s":"TPPF-BS-1.50%","x":13.72,"y":0.627},{"s":"TPPF-BS-1.50%","x":14.44,"y":0.627},{"s":"TPPF-BS-1.50%","x":14.92,"y":0.647},{"s":"TPPF-BS-1.50%","x":15.43,"y":0.667},{"s":"TPPF-BS-1.50%","x":15.67,"y":0.627},{"s":"TPPF-BS-1.50%","x":16.15,"y":0.578},{"s":"TPPF-BS-1.50%","x":16.63,"y":0.588},{"s":"TPPF-BS-1.50%","x":17.35,"y":0.549},{"s":"TPPF-BS-1.50%","x":17.83,"y":0.598},{"s":"TPPF-BS-1.50%","x":18.42,"y":0.618},{"s":"TPPF-BS-1.50%","x":18.66,"y":0.578},{"s":"TPPF-BS-1.50%","x":19.02,"y":0.481},{"s":"TPPF-BS-1.50%","x":19.26,"y":0.51},{"s":"TPPF-BS-1.50%","x":19.98,"y":0.5},{"s":"TPPF-BS-1.50%","x":20.46,"y":0.491},{"s":"TPPF-BS-1.50%","x":21.18,"y":0.452},{"s":"TPPF-BS-1.50%","x":21.9,"y":0.442},{"s":"TPPF-BS-1.50%","x":22.38,"y":0.442},{"s":"TPPF-BS-1.50%","x":22.86,"y":0.413},{"s":"TPPF-BS-1.50%","x":23.33,"y":0.364},{"s":"TPPF-BS-1.50%","x":24.05,"y":0.393}
    ]
  },
  "columns": 1,
  "align": "none",
  "spacing": 33,
  "resolve": {"scale": {"x": "independent", "y": "independent", "color": "independent"}, "legend": {"color": "independent"}},
  "concat": [
    {
      "spacing": 0,
      "hconcat": [
        {"width": 1, "height": 10, "data": {"values": []}, "mark": "point"},
        {
          "width": 467,
          "height": 307,
          "title": {"text": "(a)", "orient": "bottom", "frame": "group", "anchor": "middle", "dx": -17, "offset": 6, "fontSize": 17, "fontWeight": "bold"},
          "encoding": {
            "x": {"field": "x", "type": "quantitative", "title": "Displacement (mm)", "scale": {"domain": [0, 25], "nice": false, "zero": false},
              "axis": {"values": [0, 2.5, 5, 7.5, 10, 12.5, 15, 17.5, 20, 22.5, 25], "labelExpr": "datum.value % 5 == 0 ? datum.label : ''",
                "tickSize": {"condition": {"test": "datum.value % 5 == 0", "value": 6}, "value": 3},
                "labelFontSize": 15, "titleFontSize": 19, "domainWidth": 1.5, "tickWidth": 1.5, "labelPadding": 1, "titlePadding": 6}},
            "y": {"field": "y", "type": "quantitative", "title": "Test force (kN)", "scale": {"domain": [0, 0.8], "nice": false},
              "axis": {"values": [0, 0.05, 0.1, 0.15, 0.2, 0.25, 0.3, 0.35, 0.4, 0.45, 0.5, 0.55, 0.6, 0.65, 0.7, 0.75, 0.8],
                "labelExpr": "abs(datum.value*10-round(datum.value*10)) < 0.001 ? format(datum.value, '.1f') : ''",
                "tickSize": {"condition": {"test": "abs(datum.value*10-round(datum.value*10)) < 0.001", "value": 6}, "value": 3},
                "labelFontSize": 15, "titleFontSize": 16, "domainWidth": 1.5, "tickWidth": 1.5, "labelPadding": 2, "titlePadding": 4}},
            "color": {"field": "s", "type": "nominal",
              "scale": {"domain": ["M-BS-0%", "PVA-BS-0.25%", "PVA-BS-0.50%", "PVA-BS-0.75%", "PVA-BS-1.00%", "PVA-BS-1.25%", "PVA-BS-1.50%"],
                "range": ["#3d3d3d", "#f23a3a", "#1f6ee6", "#1ea866", "#c27ff0", "#e39a0b", "#1fcfcf"]},
              "legend": {"orient": "none", "legendX": 423.2, "legendY": -20.1, "title": null, "symbolType": "M-3.645,0H1", "symbolSize": 240, "symbolStrokeWidth": 2, "labelFontSize": 12.8, "rowPadding": 0, "labelOffset": 3.7, "padding": 0}},
            "order": {"value": null}
          },
          "layer": [
            {"data": {"name": "m"}, "mark": {"type": "line", "strokeWidth": 1.8}},
            {"data": {"name": "a"}, "mark": {"type": "line", "strokeWidth": 1.8}}
          ]
        }
      ]
    },
    {
      "columns": 1,
      "align": "none",
      "spacing": 20,
      "resolve": {"scale": {"x": "independent", "y": "independent", "color": "independent"}, "legend": {"color": "independent"}},
      "concat": [
        {
          "spacing": 0,
          "hconcat": [
            {"width": 13, "height": 10, "data": {"values": []}, "mark": "point"},
            {
              "width": 384,
              "height": 276,
              "title": {"text": "(b)", "orient": "bottom", "frame": "group", "anchor": "middle", "dx": 8, "offset": 36.3, "fontSize": 17, "fontWeight": "bold"},
              "encoding": {
                "x": {"field": "x", "type": "quantitative", "title": "Displacement (mm)", "scale": {"domain": [0, 27.5], "nice": false, "zero": false},
                  "axis": {"values": [0, 2.5, 5, 7.5, 10, 12.5, 15, 17.5, 20, 22.5, 25, 27.5], "labelExpr": "datum.value % 5 == 0 ? datum.label : ''",
                    "tickSize": {"condition": {"test": "datum.value % 5 == 0", "value": 5}, "value": 3},
                    "labelFontSize": 12.5, "titleFontSize": 15.5, "domainWidth": 1.2, "tickWidth": 1.2, "labelPadding": 1, "titlePadding": 9}},
                "y": {"field": "y", "type": "quantitative", "title": "Test force (kN)", "scale": {"domain": [0, 0.8], "nice": false},
                  "axis": {"values": [0, 0.05, 0.1, 0.15, 0.2, 0.25, 0.3, 0.35, 0.4, 0.45, 0.5, 0.55, 0.6, 0.65, 0.7, 0.75, 0.8],
                    "labelExpr": "abs(datum.value*10-round(datum.value*10)) < 0.001 ? format(datum.value, '.1f') : ''",
                    "tickSize": {"condition": {"test": "abs(datum.value*10-round(datum.value*10)) < 0.001", "value": 5}, "value": 3},
                    "labelFontSize": 12.5, "titleFontSize": 15, "domainWidth": 1.2, "tickWidth": 1.2, "labelPadding": 2, "titlePadding": 11}},
                "color": {"field": "s", "type": "nominal",
                  "scale": {"domain": ["M-BS-0%", "PPMF-BS-0.25%", "PPMF-BS-0.50%", "PPMF-BS-0.75%", "PPMF-BS-1.00%", "PPMF-BS-1.25%", "PPMF-BS-1.50%"],
                    "range": ["#3d3d3d", "#f23a3a", "#1f6ee6", "#1ea866", "#c27ff0", "#e39a0b", "#1fcfcf"]},
                  "legend": {"orient": "none", "legendX": 380.1, "legendY": -26.4, "title": null, "symbolType": "M-3.186,0H1", "symbolSize": 166, "symbolStrokeWidth": 2, "labelFontSize": 10.7, "rowPadding": 0, "labelOffset": 2.3, "padding": 0}},
                "order": {"value": null}
              },
              "layer": [
                {"data": {"name": "m"}, "mark": {"type": "line", "strokeWidth": 1.5}},
                {"data": {"name": "b"}, "mark": {"type": "line", "strokeWidth": 1.5}}
              ]
            }
          ]
        },
        {
          "spacing": 0,
          "hconcat": [
            {"width": 20, "height": 10, "data": {"values": []}, "mark": "point"},
            {
              "width": 383,
              "height": 273,
              "title": {"text": "(c)", "orient": "bottom", "frame": "group", "anchor": "middle", "dx": -7, "offset": 21.7, "fontSize": 17, "fontWeight": "bold"},
              "encoding": {
                "x": {"field": "x", "type": "quantitative", "title": "Displacement (mm)", "scale": {"domain": [0, 27.5], "nice": false, "zero": false},
                  "axis": {"values": [0, 2.5, 5, 7.5, 10, 12.5, 15, 17.5, 20, 22.5, 25, 27.5], "labelExpr": "datum.value % 5 == 0 ? datum.label : ''",
                    "tickSize": {"condition": {"test": "datum.value % 5 == 0", "value": 5}, "value": 3},
                    "labelFontSize": 12.5, "titleFontSize": 15.5, "domainWidth": 1.2, "tickWidth": 1.2, "labelPadding": 1, "titlePadding": 12}},
                "y": {"field": "y", "type": "quantitative", "title": "Test force (kN)", "scale": {"domain": [0, 0.8], "nice": false},
                  "axis": {"values": [0, 0.05, 0.1, 0.15, 0.2, 0.25, 0.3, 0.35, 0.4, 0.45, 0.5, 0.55, 0.6, 0.65, 0.7, 0.75, 0.8],
                    "labelExpr": "abs(datum.value*10-round(datum.value*10)) < 0.001 ? format(datum.value, '.1f') : ''",
                    "tickSize": {"condition": {"test": "abs(datum.value*10-round(datum.value*10)) < 0.001", "value": 5}, "value": 3},
                    "labelFontSize": 12.5, "titleFontSize": 15, "domainWidth": 1.2, "tickWidth": 1.2, "labelPadding": 2, "titlePadding": 18}},
                "color": {"field": "s", "type": "nominal",
                  "scale": {"domain": ["M-BS-0%", "TPPF-BS-0.25%", "TPPF-BS-0.50%", "TPPF-BS-0.75%", "TPPF-BS-1.00%", "TPPF-BS-1.25%", "TPPF-BS-1.50%"],
                    "range": ["#3d3d3d", "#f23a3a", "#1f6ee6", "#1ea866", "#c27ff0", "#e39a0b", "#1fcfcf"]},
                  "legend": {"orient": "none", "legendX": 408.4, "legendY": -27, "title": null, "symbolType": "M-3.186,0H1", "symbolSize": 166, "symbolStrokeWidth": 2, "labelFontSize": 10.7, "rowPadding": 0, "labelOffset": 2.7, "padding": 0}},
                "order": {"value": null}
              },
              "layer": [
                {"data": {"name": "m"}, "mark": {"type": "line", "strokeWidth": 1.5}},
                {"data": {"name": "c"}, "mark": {"type": "line", "strokeWidth": 1.5}}
              ]
            }
          ]
        }
      ]
    }
  ]
}
